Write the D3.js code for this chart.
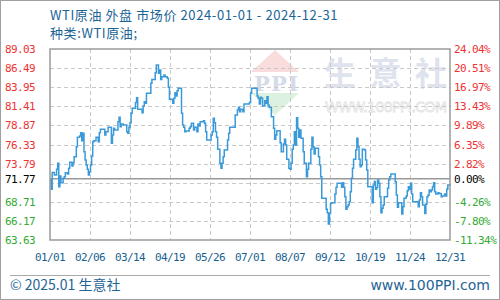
<!DOCTYPE html>
<meta charset="utf-8">
<style>
body { margin: 0; background: #fff; }
svg { display: block; }
.grid line { stroke: #c8c8c8; stroke-dasharray: 4,3; }
.mono { font-family: "DejaVu Sans Mono", monospace; font-size: 11px; letter-spacing: -0.6px; }
</style>
<body>
<svg width="500" height="300"></svg>
<script src="https://cdn.jsdelivr.net/npm/d3@7"></script>
<script>
// WTI daily price 2024
var dates = ["01-01","01-02","01-03","01-05","01-07","01-08","01-09","01-10","01-11","01-13","01-14","01-15","01-17","01-18","01-19","01-21","01-22","01-23","01-25","01-26","01-28","01-29","01-30","01-31",
  "02-01","02-02","02-03","02-04","02-05","02-06","02-07","02-08","02-09","02-10","02-12","02-14","02-15","02-16","02-20","02-21","02-23","02-26","02-27","02-28","02-29",
  "03-03","03-04","03-05","03-06","03-08","03-11","03-12","03-13","03-14","03-15","03-16","03-19","03-20","03-21","03-25","03-26","03-27","03-28","03-29",
  "04-02","04-03","04-06","04-07","04-09","04-10","04-11","04-12","04-14","04-15","04-17","04-18","04-19","04-22","04-23","04-24","04-25","04-26","04-27","04-30",
  "05-01","05-02","05-03","05-04","05-07","05-08","05-09","05-11","05-12","05-14","05-15","05-16","05-17","05-20","05-21","05-22","05-23","05-27","05-28","05-29","05-30","05-31",
  "06-01","06-02","06-04","06-05","06-06","06-07","06-08","06-11","06-12","06-13","06-18","06-20","06-21","06-22","06-23","06-25","06-26",
  "07-01","07-02","07-03","07-08","07-09","07-10","07-11","07-12","07-13","07-15","07-16","07-17","07-18","07-19","07-21","07-23","07-24","07-25","07-26","07-29","07-30",
  "08-01","08-02","08-03","08-04","08-06","08-07","08-08","08-09","08-10","08-11","08-12","08-13","08-14","08-15","08-16","08-17","08-19","08-20","08-22","08-23","08-24","08-26","08-27","08-28","08-29","08-30",
  "09-02","09-03","09-04","09-05","09-09","09-10","09-11","09-12","09-13","09-14","09-17","09-18","09-19","09-23","09-24","09-25","09-26","09-27","09-28","09-29","09-30",
  "10-01","10-02","10-03","10-04","10-06","10-07","10-08","10-09","10-10","10-11","10-12","10-14","10-15","10-16","10-17","10-21","10-22","10-23","10-24","10-25","10-26","10-27","10-28","10-29","10-30","10-31",
  "11-01","11-04","11-05","11-06","11-07","11-11","11-12","11-13","11-14","11-17","11-18","11-19","11-21","11-22","11-23","11-24","11-25","11-26","11-27",
  "12-02","12-03","12-04","12-05","12-06","12-08","12-09","12-10","12-11","12-12","12-13","12-14","12-15","12-16","12-17","12-18","12-20","12-21","12-23","12-24","12-26","12-27","12-28","12-29","12-31"];
var prices = [71.61,70.37,72.59,72.27,73.03,73.83,70.72,72.14,71.25,71.83,72.05,72.58,72.41,73.16,73.96,73.47,73.91,74.71,76.04,77.28,77.46,77.90,76.84,77.81,
  75.38,74.27,73.60,73.03,72.27,72.72,73.60,74.80,76.71,76.84,77.28,76.71,77.90,78.35,77.59,78.04,78.61,76.48,77.59,78.48,78.26,
  79.37,79.94,78.70,79.06,78.92,78.04,77.81,78.61,79.23,80.48,81.14,81.90,82.56,81.01,80.56,81.45,82.03,81.80,83.13,
  84.46,84.99,85.88,86.90,85.79,86.24,84.99,85.35,85.57,85.35,85.13,83.93,82.34,81.80,82.47,83.22,82.78,83.49,83.80,80.48,
  78.92,78.61,78.04,78.13,78.48,78.70,79.15,78.26,78.61,78.04,79.06,78.79,79.37,79.50,79.15,78.04,76.93,77.59,78.04,79.81,79.23,78.04,
  77.28,75.69,73.82,73.16,73.82,74.71,75.60,76.93,77.81,78.61,80.25,80.92,81.27,80.70,81.01,80.70,81.71,
  81.90,83.13,83.80,82.78,82.47,81.71,82.60,82.47,81.45,82.16,81.80,82.69,81.58,81.27,80.03,78.48,77.02,77.59,78.17,76.57,75.38,
  76.40,77.02,76.26,74.36,73.16,73.03,73.82,75.69,76.26,78.04,76.26,79.90,78.48,77.28,78.26,77.15,75.38,73.82,72.05,73.03,73.82,75.69,77.28,76.04,75.07,75.82,
  74.71,73.60,72.05,69.17,67.71,67.26,65.76,67.17,68.50,68.59,69.75,70.63,71.17,70.63,71.25,70.63,69.39,67.71,68.06,68.28,68.73,
  70.06,71.83,73.16,74.36,75.60,77.15,76.04,74.36,73.38,73.60,75.69,75.60,74.27,72.94,70.72,68.59,70.94,71.40,70.37,70.60,71.61,71.17,69.39,67.26,67.84,68.28,
  69.39,70.50,71.61,72.05,72.41,71.39,69.61,67.97,68.59,67.09,68.06,69.17,69.48,70.19,70.72,70.37,71.17,69.75,68.73,
  68.06,68.95,69.92,69.39,68.28,67.17,68.42,69.39,69.61,70.28,70.06,70.28,70.72,71.25,70.06,69.75,69.92,69.83,69.39,69.48,69.75,69.48,70.37,70.94,71.08];

var xTickLabels = ["01/01","02/06","03/14","04/19","05/26","07/01","08/07","09/12","10/19","11/24","12/31"];
var gridValues = [89.03,86.49,83.95,81.41,78.87,76.33,73.79,71.25,68.71,66.17,63.63];
var leftTicks = [89.03,86.49,83.95,81.41,78.87,76.33,73.79,71.77,68.71,66.17,63.63];
var rightLabels = ["24.04%","20.51%","16.97%","13.43%","9.89%","6.35%","2.82%","0.00%","-4.26%","-7.80%","-11.34%"];
var basePrice = 71.77;

var svg = d3.select("svg"),
    pl = 50, pr = 450, pt = 49, pb = 240;

var parse = d3.timeParse("%Y-%m-%d");
var data = dates.map(function(d, i) { return {date: parse("2024-" + d), value: prices[i]}; });

var x = d3.scaleTime().domain([parse("2024-01-01"), parse("2024-12-31")]).range([pl, pr]);
var xp = d3.scalePoint().domain(xTickLabels).range([pl, pr]);
var y = d3.scaleLinear().domain([63.63, 89.03]).range([pb, pt]);

// outer frame
svg.append("rect").attr("x", 0.5).attr("y", 0.5).attr("width", 499).attr("height", 299)
  .attr("fill", "none").attr("stroke", "#a0a0a0");

// titles
svg.append("text").attr("x", 50).attr("y", 20)
  .style("font", "13px 'Noto Sans CJK SC', sans-serif").style("letter-spacing", "0.6px")
  .attr("fill", "#1a6496")
  .text("WTI原油 外盘 市场价 2024-01-01 - 2024-12-31");
svg.append("text").attr("x", 50).attr("y", 38)
  .style("font", "13px 'Noto Sans CJK SC', sans-serif").style("letter-spacing", "0.6px")
  .attr("fill", "#1a6496")
  .text("种类:WTI原油;");

// watermark
var wm = svg.append("g");
wm.append("path").attr("d", "M251,72L275,50L299,72Z").attr("fill", "#f9dcdc");
wm.append("path").attr("d", "M251,93L299,93L275,115Z").attr("fill", "#dcf1df");
wm.append("text").attr("x", 276).attr("y", 91).attr("text-anchor", "middle")
  .style("font", "bold 21px 'DejaVu Serif', serif").attr("fill", "#d5dbe9")
  .attr("textLength", 44).text("PPI");
wm.append("text").attr("x", 324).attr("y", 85)
  .style("font", "bold 32px 'Noto Sans CJK SC', sans-serif").attr("fill", "#dfe3ee")
  .attr("textLength", 123).text("生意社");
wm.append("text").attr("x", 325).attr("y", 112)
  .style("font", "14px 'DejaVu Sans', sans-serif").attr("fill", "none")
  .attr("stroke", "#e2e2e2").attr("stroke-width", 0.8)
  .attr("textLength", 122).text("WWW.100PPI.COM");

// grid
var grid = svg.append("g").attr("class", "grid");
grid.selectAll(".h").data(gridValues.slice(1, -1)).enter().append("line")
  .attr("x1", pl).attr("x2", pr)
  .attr("y1", function(d) { return Math.round(y(d)) + 0.5; })
  .attr("y2", function(d) { return Math.round(y(d)) + 0.5; });
grid.selectAll(".v").data(xTickLabels.slice(1, -1)).enter().append("line")
  .attr("y1", pt).attr("y2", pb)
  .attr("x1", function(d) { return Math.round(xp(d)) + 0.5; })
  .attr("x2", function(d) { return Math.round(xp(d)) + 0.5; });

// base line
svg.append("line").attr("x1", pl).attr("x2", pr)
  .attr("y1", y(basePrice)).attr("y2", y(basePrice))
  .attr("stroke", "#999").attr("stroke-width", 1.5);

// price line
svg.append("path").datum(data)
  .attr("fill", "none").attr("stroke", "#3a9ad9").attr("stroke-width", 1.5)
  .attr("d", d3.line().curve(d3.curveStepAfter)
    .x(function(d) { return x(d.date); })
    .y(function(d) { return y(d.value); }));

// plot frame
svg.append("rect").attr("x", pl).attr("y", pt).attr("width", pr - pl).attr("height", pb - pt)
  .attr("fill", "none").attr("stroke", "#9a9a9a").attr("stroke-width", 1.5);

function tickColor(v) {
  return v > basePrice ? "#ee3333" : (v < basePrice ? "#33aa33" : "#000");
}

// left axis labels
svg.selectAll(".yl").data(leftTicks).enter().append("text")
  .attr("class", "mono").attr("x", 35).attr("y", function(d) { return y(d) + 4; })
  .attr("text-anchor", "end").attr("fill", tickColor)
  .text(function(d) { return d.toFixed(2); });

// right axis labels
svg.selectAll(".yr").data(rightLabels).enter().append("text")
  .attr("class", "mono").attr("x", 454).attr("y", function(d, i) { return y(leftTicks[i]) + 4; })
  .attr("fill", function(d, i) { return tickColor(leftTicks[i]); })
  .text(function(d) { return d; });

// x labels
svg.selectAll(".xl").data(xTickLabels).enter().append("text")
  .attr("class", "mono").attr("x", function(d) { return xp(d); }).attr("y", 261)
  .attr("text-anchor", "middle").attr("fill", "#1a5f8e")
  .text(function(d) { return d; });

// footer
svg.append("line").attr("x1", 10).attr("x2", 490).attr("y1", 275.5).attr("y2", 275.5)
  .attr("stroke", "#aaa");
svg.append("text").attr("x", 10).attr("y", 290)
  .style("font", "14px 'Noto Sans CJK SC', sans-serif").attr("fill", "#1f6595")
  .text("© 2025.01 生意社");
svg.append("text").attr("x", 490).attr("y", 290).attr("text-anchor", "end")
  .style("font", "14px 'DejaVu Sans', sans-serif").attr("fill", "#1f6595")
  .text("www.100PPI.com");
</script>
</body>
